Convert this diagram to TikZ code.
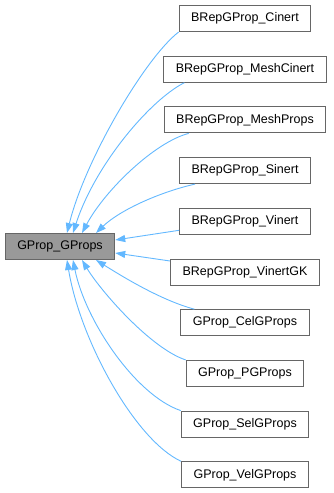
\documentclass[tikz,border=0pt]{standalone}
\usepackage{fontspec}
\setmainfont{Liberation Sans}
\usetikzlibrary{arrows.meta, positioning}

\definecolor{edgeblue}{HTML}{63B8FF}
\definecolor{boxgray}{HTML}{666666}
\definecolor{basefill}{HTML}{999999}

\begin{document}
\begin{tikzpicture}[
      x=1pt, y=-1pt,
      node distance = 23.7pt,
      cls/.style  = {draw=boxgray, line width=1pt, fill=white,
                     minimum height=26pt, inner xsep=12pt,
                     font=\fontsize{12.5}{14}\selectfont},
      base/.style = {cls, fill=basefill},
      edge/.style = {draw=edgeblue, line width=0.9pt,
                     -{Triangle[length=10pt,width=7pt]}}
    ]
    \useasboundingbox (0,0) rectangle (333,493);
    % base class
    \node[base] (gp) at (60,246.5) {GProp\_GProps};
    % derived classes
    \node[cls] (cinert) at (245,18.5) {BRepGProp\_Cinert};
    \node[cls, below=of cinert]     (meshcinert) {BRepGProp\_MeshCinert};
    \node[cls, below=of meshcinert] (meshprops)  {BRepGProp\_MeshProps};
    \node[cls, below=of meshprops]  (sinert)     {BRepGProp\_Sinert};
    \node[cls, below=of sinert]     (vinert)     {BRepGProp\_Vinert};
    \node[cls, below=of vinert]     (vinertgk)   {BRepGProp\_VinertGK};
    \node[cls, below=of vinertgk]   (celgp)      {GProp\_CelGProps};
    \node[cls, below=of celgp]      (pgp)        {GProp\_PGProps};
    \node[cls, below=of pgp]        (selgp)      {GProp\_SelGProps};
    \node[cls, below=of selgp]      (velgp)      {GProp\_VelGProps};
    % inheritance edges
    \draw[edge] (cinert.south west) .. controls (145,58) and (85,160) .. ([xshift=7pt]gp.north);
    \draw[edge] ([xshift=21pt]meshcinert.south west) .. controls (150,100) and (95,165) .. ([xshift=13pt]gp.north);
    \draw[edge] ([xshift=25pt]meshprops.south west) .. controls (155,142) and (105,190) .. ([xshift=22pt]gp.north);
    \draw[edge] ([xshift=16pt]sinert.south west) .. controls (160,192) and (120,210) .. ([xshift=36pt]gp.north);
    \draw[edge] ([yshift=-9pt]vinert.west) -- ([yshift=6.5pt]gp.east);
    \draw[edge] ([yshift=11pt]vinertgk.west) -- ([yshift=-6.5pt]gp.east);
    \draw[edge] ([xshift=14pt]celgp.north west) .. controls (160,300) and (120,275) .. ([xshift=36pt]gp.south);
    \draw[edge] (pgp.north west) .. controls (150,348) and (100,290) .. ([xshift=22pt]gp.south);
    \draw[edge] (selgp.north west) .. controls (135,395) and (85,320) .. ([xshift=13pt]gp.south);
    \draw[edge] (velgp.north west) .. controls (135,440) and (80,340) .. ([xshift=7pt]gp.south);
\end{tikzpicture}
\end{document}
